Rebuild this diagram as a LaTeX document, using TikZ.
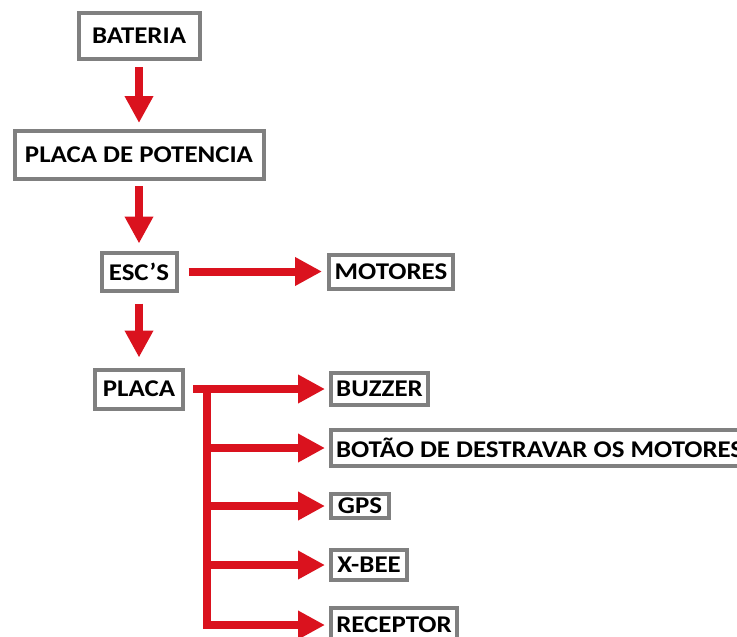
\documentclass[tikz,border=0pt]{standalone}
\usepackage{fontspec}
\setmainfont{Carlito}[FakeStretch=1.12]
\usetikzlibrary{arrows.meta,positioning}
\definecolor{borda}{RGB}{128,128,128}
\definecolor{vermelho}{RGB}{218,18,30}
\tikzset{>={Triangle[length=27pt,width=27pt]}}
\tikzset{caixa/.style={draw=borda,line width=4pt,fill=white,inner sep=0pt,font=\fontsize{24}{28}\selectfont\bfseries},
  seta/.style={->,draw=vermelho,line width=8pt,shorten <=6pt,shorten >=6pt}}
\begin{document}
\begin{tikzpicture}[x=1pt,y=1pt]
\path[use as bounding box,clip] (0,0) rectangle (737,-637);
\node[caixa,minimum width=121pt,minimum height=46pt] (bateria) at (139,-36) {BATERIA};
\node[caixa,minimum width=249pt,minimum height=48pt] (potencia) at (139,-155) {PLACA DE POTENCIA};
\node[caixa,minimum width=75pt,minimum height=38pt] (esc) at (139,-271.5) {ESC’S};
\node[caixa,minimum width=124pt,minimum height=34pt] (motores) at (391,-271.5) {MOTORES};
\node[caixa,minimum width=88pt,minimum height=39pt] (placa) at (139,-389) {PLACA};
\node[caixa,minimum width=97pt,minimum height=32pt] (buzzer) at (379.5,-389) {BUZZER};
\node[caixa,anchor=west,inner xsep=5pt,minimum height=36pt] (botao) at (329,-448) {BOTÃO DE DESTRAVAR OS MOTORES};
\node[caixa,minimum width=58pt,minimum height=24pt] (gps) at (360,-506) {GPS};
\node[caixa,minimum width=76pt,minimum height=30pt] (xbee) at (369,-565) {X-BEE};
\node[caixa,minimum width=126pt,minimum height=34pt] (receptor) at (394,-625) {RECEPTOR};
\coordinate (tronco) at (207,-389);
\draw[seta] (bateria) -- (potencia);
\draw[seta,shorten <=5pt,shorten >=7pt] (potencia) -- (esc);
\draw[seta,shorten <=11pt,shorten >=10pt] (esc) -- (placa);
\draw[seta,shorten <=10pt,shorten >=5pt] (esc) -- (motores);
\draw[seta,shorten <=8pt,shorten >=4pt] (placa) -- (buzzer);
\draw[seta,shorten <=0pt,shorten >=4pt] (tronco) |- (botao);
\draw[seta,shorten <=0pt,shorten >=4pt] (tronco) |- (gps);
\draw[seta,shorten <=0pt,shorten >=4pt] (tronco) |- (xbee);
\draw[seta,shorten <=0pt,shorten >=4pt] (tronco) |- (receptor);
\end{tikzpicture}
\end{document}
